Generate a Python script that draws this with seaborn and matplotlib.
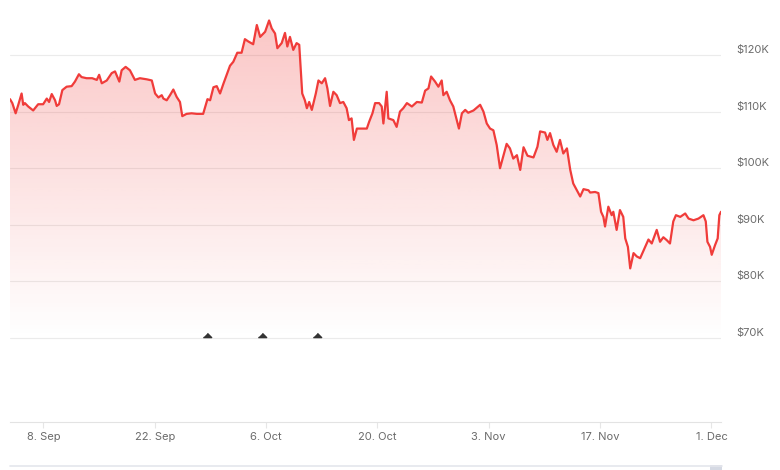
import numpy as np
import pandas as pd
import seaborn as sns
import matplotlib
import matplotlib.pyplot as plt
import matplotlib.dates as mdates
from matplotlib.lines import Line2D
from matplotlib.patches import Rectangle

matplotlib.use('Agg')

# price trace, hours after the start stamp and price in $K
start = pd.Timestamp('2025-09-03 18:00')
hours = [1, 8, 18, 26, 36, 41, 46, 56, 71, 86, 101, 112, 119, 127, 137, 142, 149, 159, 172, 187,
         197, 209, 217, 232, 249, 263, 270, 278, 293, 308, 318, 331, 338, 350, 363, 378, 393, 414, 429,
         439, 449, 459, 464, 474, 484, 494, 504, 514, 521, 534, 549, 565, 584, 597, 605, 615, 625, 635,
         645, 657, 665, 675, 687, 700, 710, 720, 735, 746, 756, 771, 783, 791, 801, 808, 821, 831, 838,
         846, 856, 866, 874, 883, 891, 897, 904, 912, 917, 924, 932, 942, 952, 959, 967, 977, 987, 997,
         1007, 1017, 1024, 1032, 1039, 1048, 1063, 1078, 1085, 1095, 1103, 1115, 1123, 1128, 1138, 1143,
         1158, 1168, 1178, 1188, 1199, 1214, 1229, 1244, 1254, 1264, 1272, 1284, 1294, 1304, 1309, 1319,
         1329, 1339, 1347, 1356, 1365, 1375, 1384, 1400, 1420, 1430, 1440, 1450, 1460, 1470, 1480, 1488,
         1500, 1510, 1520, 1531, 1541, 1551, 1563, 1581, 1593, 1601, 1616, 1623, 1631, 1641, 1651, 1661,
         1671, 1682, 1692, 1701, 1712, 1722, 1732, 1747, 1752, 1767, 1777, 1785, 1792, 1797, 1807, 1817,
         1822, 1832, 1842, 1852, 1858, 1866, 1873, 1883, 1893, 1903, 1918, 1928, 1938, 1953, 1963, 1973,
         1983, 1993, 2003, 2011, 2024, 2039, 2049, 2064, 2079, 2094, 2101, 2106, 2114, 2119, 2129, 2137,
         2142, 2147]
price_k = [112.2, 111.5, 109.7, 111.2, 113.2, 111.2, 111.5, 110.9, 110.2, 111.3, 111.3, 112.3, 111.7,
           113.1, 112.0, 111.0, 111.3, 113.8, 114.4, 114.5, 115.3, 116.6, 116.1, 115.9, 115.9, 115.6,
           116.5, 115.0, 115.5, 116.8, 117.1, 115.3, 117.3, 117.9, 117.3, 115.6, 115.9, 115.7, 115.5,
           113.2, 112.5, 112.9, 112.3, 112.0, 112.9, 113.9, 112.6, 111.7, 109.2, 109.6, 109.7, 109.6,
           109.6, 112.2, 112.0, 114.3, 114.5, 113.2, 114.9, 116.8, 118.1, 118.8, 120.4, 120.4, 122.8,
           122.4, 121.9, 125.3, 123.2, 124.1, 126.1, 124.7, 123.8, 121.2, 122.1, 123.9, 121.5, 123.2,
           120.9, 122.1, 121.8, 113.2, 112.0, 110.6, 111.7, 110.3, 111.5, 113.2, 115.5, 115.0, 115.9,
           114.1, 111.0, 113.5, 112.9, 111.5, 111.7, 110.6, 108.5, 108.8, 105.0, 107.0, 107.0, 107.0,
           108.2, 109.7, 111.5, 111.5, 110.9, 107.9, 113.5, 108.8, 108.5, 107.3, 110.0, 110.6, 111.5,
           110.9, 111.7, 111.6, 113.7, 114.1, 116.2, 115.3, 114.4, 115.5, 112.9, 113.5, 112.0, 110.9,
           109.1, 107.0, 109.7, 110.3, 109.8, 110.2, 111.2, 110.0, 107.9, 107.0, 106.7, 104.1, 100.0,
           101.7, 104.3, 103.5, 101.7, 102.3, 99.7, 103.7, 102.2, 101.9, 103.8, 106.5, 106.3, 105.0,
           106.2, 104.1, 102.9, 105.0, 102.6, 103.5, 99.7, 97.3, 96.1, 95.0, 96.3, 96.1, 95.7, 95.8,
           95.6, 92.3, 91.4, 89.7, 93.2, 91.7, 92.3, 89.1, 92.6, 91.4, 87.6, 86.1, 82.3, 85.0, 84.4,
           84.1, 86.1, 87.4, 86.7, 89.1, 87.0, 87.8, 87.3, 86.7, 90.6, 91.7, 91.4, 92.0, 91.1, 90.8,
           91.1, 91.7, 90.6, 87.0, 86.1, 84.7, 86.4, 87.6, 91.7, 92.3]

event_times = ['2025-09-28 14:00', '2025-10-05 12:00', '2025-10-12 11:00']
tick_dates = ['2025-09-08', '2025-09-22', '2025-10-06', '2025-10-20', '2025-11-03', '2025-11-17', '2025-12-01']
y_ticks = [70, 80, 90, 100, 110, 120]

df = pd.DataFrame({'time': start + pd.to_timedelta(hours, unit='h'), 'price': price_k})

sns.set_theme(style='white')
plt.rcParams['font.family'] = ['Inter', 'DejaVu Sans']

red = '#f03c3a'
y_lo, y_hi = 55.16, 127.95

fig = plt.figure(figsize=(7.8, 4.7), dpi=100)
ax = fig.add_axes([10 / 780, 48 / 470, 711 / 780, 412 / 470])

# gradient fill under the line, clipped to the area
x0 = mdates.date2num(df['time'].iloc[0])
x1 = mdates.date2num(df['time'].iloc[-1])
grad = np.zeros((256, 1, 4))
grad[:, 0, :3] = matplotlib.colors.to_rgb(red)
grad[:, 0, 3] = np.linspace(0, 0.3, 256)
im = ax.imshow(grad, extent=[x0, x1, 70, y_hi], origin='lower', aspect='auto', zorder=1)
area = ax.fill_between(df['time'], df['price'], y_lo, color='none', lw=0)
im.set_clip_path(area.get_paths()[0], transform=ax.transData)

sns.lineplot(data=df, x='time', y='price', color=red, linewidth=1.6, ax=ax, zorder=3)

ev = pd.to_datetime(event_times)
ax.plot(ev, [70.45] * len(ev), linestyle='none', marker=[(-1, -0.5), (1, -0.5), (0, 0.5)],
        markersize=6, color='#333333', zorder=4)

ax.set_xlim(x0, x1)
ax.set_ylim(y_lo, y_hi)
ax.set_xlabel('')
ax.set_ylabel('')

ax.set_yticks(y_ticks)
ax.set_yticklabels([f'${v}K' for v in y_ticks], va='bottom')
ax.yaxis.tick_right()
ax.grid(axis='y', color='#ebebeb', linewidth=0.8)
ax.grid(axis='x', visible=False)

ax.set_xticks(pd.to_datetime(tick_dates))
ax.xaxis.set_major_formatter(mdates.DateFormatter('%-d. %b'))
ax.tick_params(axis='y', length=0, pad=11, labelsize=8, labelcolor='#6b6b6b')
ax.tick_params(axis='x', bottom=True, length=4, width=0.8, color='#e6e6e6', pad=3,
               labelsize=8, labelcolor='#6b6b6b')

for s in ['top', 'left', 'right']:
    ax.spines[s].set_visible(False)
ax.spines['bottom'].set_color('#e3e3e3')
ax.spines['bottom'].set_linewidth(0.8)

# navigator strip at the bottom edge
fig.add_artist(Line2D([10 / 780, 722 / 780], [4 / 470, 4 / 470], color='#e4e6ec', lw=1.2))
fig.add_artist(Rectangle((710 / 780, 0), 12 / 780, 5 / 470, color='#d5d9e3', lw=0))

fig.savefig('out.png', dpi=100)
